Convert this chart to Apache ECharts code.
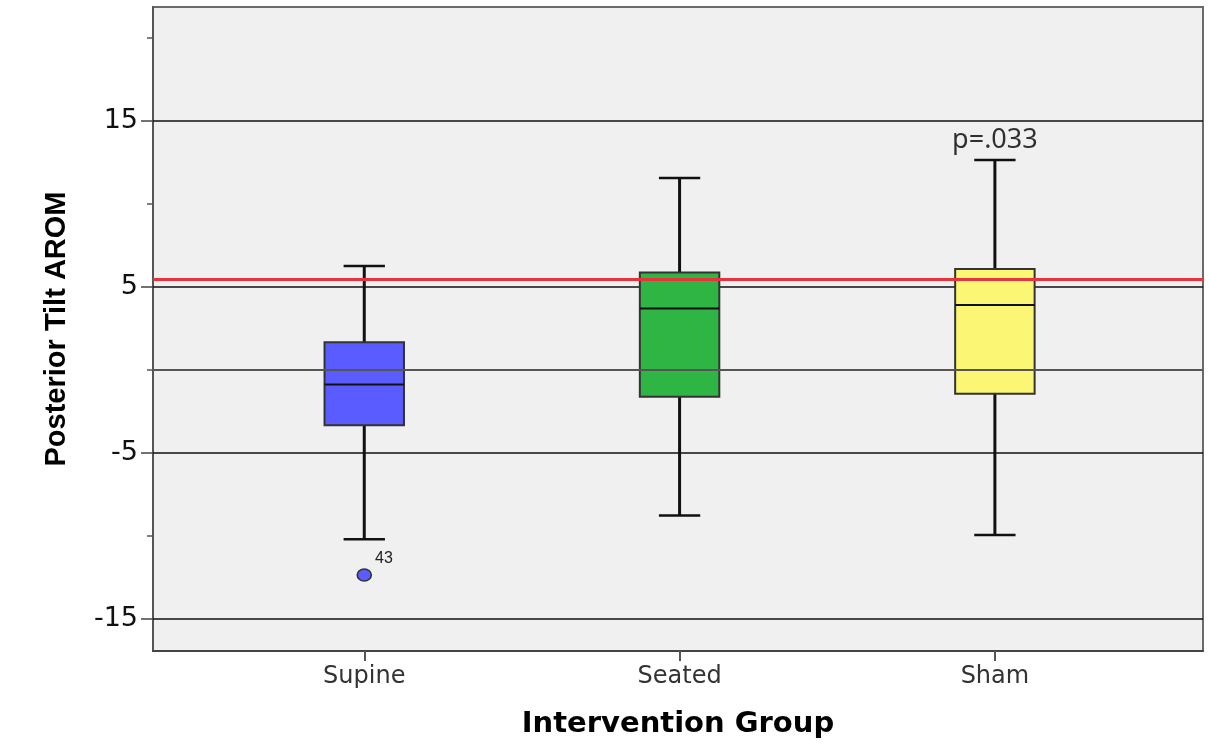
<!DOCTYPE html>
<html>
<head>
<meta charset="utf-8">
<script src="https://cdn.jsdelivr.net/npm/echarts@6/dist/echarts.min.js"></script>
<style>html,body{margin:0;padding:0;background:#fff;}#c{width:1209px;height:745px;}</style>
</head>
<body>
<div id="c"></div>
<script>
// Data
var categories = ['Supine', 'Seated', 'Sham'];
var whiskerLow = [-10.2, -8.77, -9.94];
var q1 = [-3.33, -1.61, -1.43];
var median = [-0.88, 3.71, 3.92];
var q3 = [1.67, 5.88, 6.08];
var whiskerHigh = [6.27, 11.57, 12.65];
var boxColors = ['#5a5cff', '#2eb543', '#fbf673'];
var outliers = [[0, -12.35, '43']];
var majorTicks = [15, 5, -5, -15];
var minorTicks = [20, 10, 0, -10];
var referenceLine = 5.48;
var zeroLine = 0;
var annotation = 'p=.033';
var annotatedGroup = 2;

var boxData = categories.map(function (c, i) {
  return [i, whiskerLow[i], q1[i], median[i], q3[i], whiskerHigh[i]];
});

function renderBox(params, api) {
  var x = api.value(0);
  var idx = params.dataIndex;
  var band = api.size([1, 0])[0];
  var bw = band * 0.252;
  var cw = bw * 0.52;
  var pLow = api.coord([x, api.value(1)]);
  var pQ1 = api.coord([x, api.value(2)]);
  var pMed = api.coord([x, api.value(3)]);
  var pQ3 = api.coord([x, api.value(4)]);
  var pHigh = api.coord([x, api.value(5)]);
  var cx = pQ1[0];
  var lineStyle = {stroke: '#111', lineWidth: 3};
  return {
    type: 'group',
    children: [
      {type: 'line', shape: {x1: cx, y1: pQ3[1], x2: cx, y2: pHigh[1]}, style: lineStyle},
      {type: 'line', shape: {x1: cx, y1: pQ1[1], x2: cx, y2: pLow[1]}, style: lineStyle},
      {type: 'line', shape: {x1: cx - cw / 2, y1: pHigh[1], x2: cx + cw / 2, y2: pHigh[1]}, style: {stroke: '#111', lineWidth: 2.5}},
      {type: 'line', shape: {x1: cx - cw / 2, y1: pLow[1], x2: cx + cw / 2, y2: pLow[1]}, style: {stroke: '#111', lineWidth: 2.5}},
      {type: 'rect', shape: {x: cx - bw / 2, y: pQ3[1], width: bw, height: pQ1[1] - pQ3[1]},
        style: {fill: boxColors[idx], stroke: '#333', lineWidth: 2}},
      {type: 'line', shape: {x1: cx - bw / 2, y1: pMed[1], x2: cx + bw / 2, y2: pMed[1]}, style: {stroke: '#111', lineWidth: 2}}
    ]
  };
}

var chart = echarts.init(document.getElementById('c'));
chart.setOption({
  animation: false,
  grid: {left: 153, right: 6, top: 7, bottom: 94, show: true, backgroundColor: '#f0f0f0', borderColor: '#6a6a6a', borderWidth: 2},
  xAxis: {
    type: 'value', min: -0.67, max: 2.66,
    name: 'Intervention Group', nameLocation: 'middle', nameGap: 59,
    nameTextStyle: {fontFamily: 'DejaVu Sans', fontSize: 29, fontWeight: 'bold', color: '#000'},
    splitLine: {show: false},
    axisLine: {show: true, onZero: false, lineStyle: {color: '#444', width: 2}},
    axisTick: {show: true, customValues: [0, 1, 2], length: 10, lineStyle: {color: '#555', width: 2}},
    axisLabel: {customValues: [0, 1, 2], margin: 14, fontFamily: 'DejaVu Sans', fontSize: 24, color: '#333',
      formatter: function (v) { return categories[Math.round(v)] || ''; }}
  },
  yAxis: [{
    type: 'value', min: -16.93, max: 21.87,
    name: 'Posterior Tilt AROM', nameLocation: 'middle', nameGap: 82,
    nameTextStyle: {fontFamily: 'Liberation Sans', fontSize: 29, fontWeight: 'bold', color: '#000'},
    splitLine: {show: false},
    axisLine: {show: true, onZero: false, lineStyle: {color: '#555', width: 2}},
    axisTick: {show: true, customValues: majorTicks, length: 12, lineStyle: {color: '#444', width: 1.5}},
    axisLabel: {customValues: majorTicks, margin: 15, fontFamily: 'DejaVu Sans', fontSize: 27, color: '#111'}
  }, {
    type: 'value', min: -16.93, max: 21.87, position: 'left', offset: 0,
    splitLine: {show: false},
    axisLine: {show: false, onZero: false},
    axisTick: {show: true, customValues: minorTicks, length: 6, lineStyle: {color: '#555', width: 1.5}},
    axisLabel: {show: false}
  }],
  series: [
    {
      type: 'line', data: [], silent: true, z: 1,
      markLine: {
        silent: true, symbol: 'none', z: 1, label: {show: false},
        lineStyle: {color: '#111', width: 1.5, type: 'solid'},
        data: majorTicks.map(function (v) { return {yAxis: v}; })
      }
    },
    {
      type: 'custom', renderItem: renderBox, data: boxData, z: 2,
      encode: {x: 0, y: [1, 2, 3, 4, 5]}, silent: true
    },
    {
      type: 'line', data: [], silent: true, z: 3,
      markLine: {
        silent: true, symbol: 'none', z: 6, label: {show: false},
        data: [
          {yAxis: zeroLine, lineStyle: {color: '#555', width: 2, type: 'solid'}},
          {yAxis: referenceLine, lineStyle: {color: '#e8323c', width: 3, type: 'solid'}}
        ]
      }
    },
    {
      type: 'scatter', z: 7, silent: true,
      data: outliers.map(function (o) { return {value: [o[0], o[1]], name: o[2]}; }),
      symbol: 'circle', symbolSize: [14, 12],
      itemStyle: {color: '#5a5cff', borderColor: '#333', borderWidth: 1.5, opacity: 1},
      label: {show: true, formatter: '{b}', position: 'right', offset: [-2, -16],
        fontFamily: 'Liberation Sans', fontSize: 16, color: '#222'}
    },
    {
      type: 'scatter', z: 7, silent: true, symbolSize: 0,
      data: [{value: [annotatedGroup, whiskerHigh[annotatedGroup]], name: annotation}],
      label: {show: true, formatter: '{b}', position: 'top', distance: 6,
        fontFamily: 'Noto Sans', fontSize: 27, color: '#000'}
    }
  ]
});
</script>
</body>
</html>
